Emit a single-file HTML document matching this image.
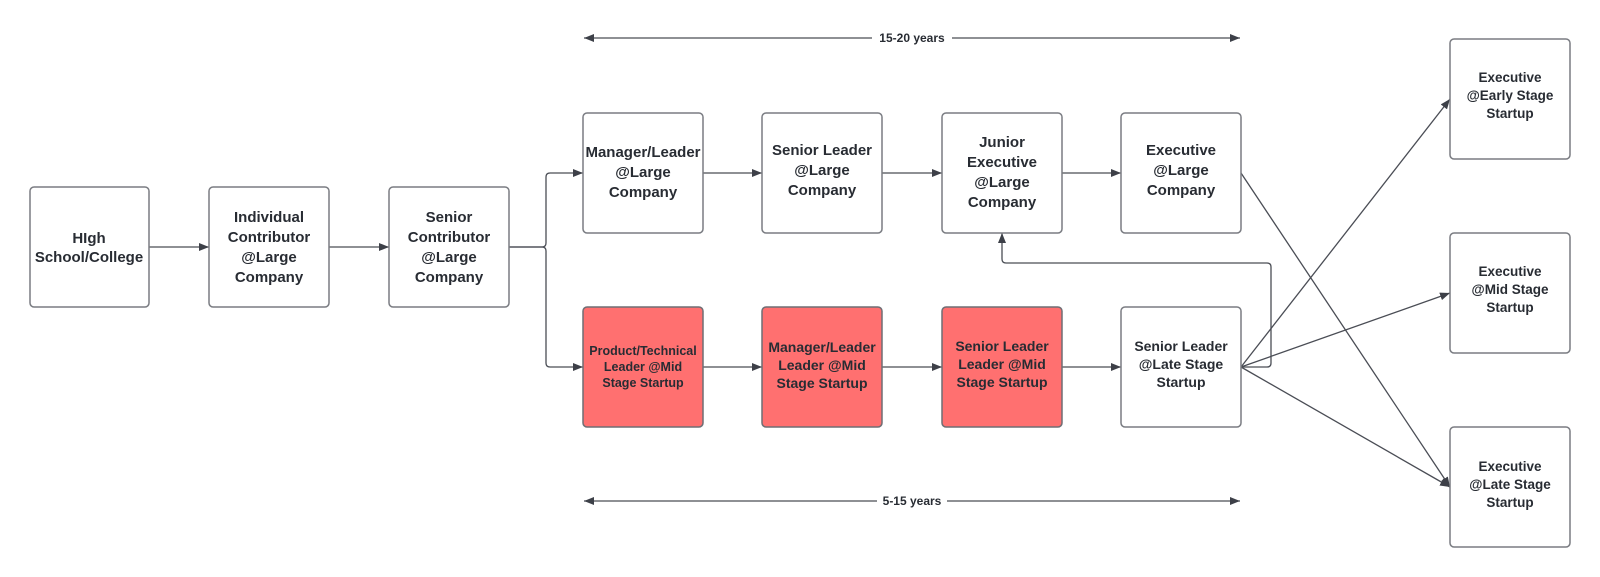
<!DOCTYPE html>
<html><head><meta charset="utf-8"><style>
html,body{margin:0;padding:0;background:#fff;}
svg{display:block;}
text{font-family:"Liberation Sans",Arial,sans-serif;font-weight:bold;fill:#282c33;text-anchor:middle;}
.b{fill:#fff;stroke:#7a7c82;stroke-width:1.5;}
.r{fill:#ff7070;stroke:#6e6e74;stroke-width:1.5;}
.l{fill:none;stroke:#4a4d55;stroke-width:1.3;}
</style></head><body>
<svg width="1600" height="577" viewBox="0 0 1600 577" xmlns="http://www.w3.org/2000/svg">
<defs>
<marker id="a" markerWidth="10" markerHeight="8" refX="10" refY="4" orient="auto" markerUnits="userSpaceOnUse">
<path d="M0,0 L10,4 L0,8 z" fill="#3d4048"/></marker>
<marker id="s" markerWidth="10" markerHeight="8" refX="0" refY="4" orient="auto" markerUnits="userSpaceOnUse">
<path d="M10,0 L0,4 L10,8 z" fill="#3d4048"/></marker>
</defs>

<!-- dimension lines -->
<line class="l" x1="584" y1="38" x2="1240" y2="38" marker-start="url(#s)" marker-end="url(#a)" stroke-width="2"/>
<rect x="872" y="30" width="80" height="16" fill="#fff"/>
<text x="912" y="42" font-size="12">15-20 years</text>
<line class="l" x1="584" y1="501" x2="1240" y2="501" marker-start="url(#s)" marker-end="url(#a)" stroke-width="2"/>
<rect x="877" y="493" width="70" height="16" fill="#fff"/>
<text x="912" y="505" font-size="12">5-15 years</text>

<!-- connectors -->
<line class="l" x1="149" y1="247" x2="209" y2="247" marker-end="url(#a)"/>
<line class="l" x1="329" y1="247" x2="389" y2="247" marker-end="url(#a)"/>
<path class="l" d="M509,247 H542 Q546,247 546,243 V177 Q546,173 550,173 H583" marker-end="url(#a)"/>
<path class="l" d="M509,247 H542 Q546,247 546,251 V363 Q546,367 550,367 H583" marker-end="url(#a)"/>
<line class="l" x1="703" y1="173" x2="762" y2="173" marker-end="url(#a)"/>
<line class="l" x1="882" y1="173" x2="942" y2="173" marker-end="url(#a)"/>
<line class="l" x1="1062" y1="173" x2="1121" y2="173" marker-end="url(#a)"/>
<line class="l" x1="703" y1="367" x2="762" y2="367" marker-end="url(#a)"/>
<line class="l" x1="882" y1="367" x2="942" y2="367" marker-end="url(#a)"/>
<line class="l" x1="1062" y1="367" x2="1121" y2="367" marker-end="url(#a)"/>
<path class="l" d="M1241,367 H1267 Q1271,367 1271,363 V267 Q1271,263 1267,263 H1006 Q1002,263 1002,259 V233" marker-end="url(#a)"/>
<line class="l" x1="1241" y1="173" x2="1450" y2="487" marker-end="url(#a)"/>
<line class="l" x1="1241" y1="367" x2="1450" y2="99" marker-end="url(#a)"/>
<line class="l" x1="1241" y1="367" x2="1450" y2="293" marker-end="url(#a)"/>
<line class="l" x1="1241" y1="367" x2="1450" y2="487" marker-end="url(#a)"/>

<!-- boxes -->
<rect class="b" x="30" y="187" width="119" height="120" rx="4"/>
<text font-size="15"><tspan x="89" y="243">HIgh</tspan><tspan x="89" y="262">School/College</tspan></text>

<rect class="b" x="209" y="187" width="120" height="120" rx="4"/>
<text font-size="15"><tspan x="269" y="222">Individual</tspan><tspan x="269" y="242">Contributor</tspan><tspan x="269" y="262">@Large</tspan><tspan x="269" y="282">Company</tspan></text>

<rect class="b" x="389" y="187" width="120" height="120" rx="4"/>
<text font-size="15"><tspan x="449" y="222">Senior</tspan><tspan x="449" y="242">Contributor</tspan><tspan x="449" y="262">@Large</tspan><tspan x="449" y="282">Company</tspan></text>

<rect class="b" x="583" y="113" width="120" height="120" rx="4"/>
<text font-size="15"><tspan x="643" y="157">Manager/Leader</tspan><tspan x="643" y="177">@Large</tspan><tspan x="643" y="197">Company</tspan></text>

<rect class="b" x="762" y="113" width="120" height="120" rx="4"/>
<text font-size="15"><tspan x="822" y="155">Senior Leader</tspan><tspan x="822" y="175">@Large</tspan><tspan x="822" y="195">Company</tspan></text>

<rect class="b" x="942" y="113" width="120" height="120" rx="4"/>
<text font-size="15"><tspan x="1002" y="147">Junior</tspan><tspan x="1002" y="167">Executive</tspan><tspan x="1002" y="187">@Large</tspan><tspan x="1002" y="207">Company</tspan></text>

<rect class="b" x="1121" y="113" width="120" height="120" rx="4"/>
<text font-size="15"><tspan x="1181" y="155">Executive</tspan><tspan x="1181" y="175">@Large</tspan><tspan x="1181" y="195">Company</tspan></text>

<rect class="r" x="583" y="307" width="120" height="120" rx="4"/>
<text font-size="12.5"><tspan x="643" y="355">Product/Technical</tspan><tspan x="643" y="371">Leader @Mid</tspan><tspan x="643" y="387">Stage Startup</tspan></text>

<rect class="r" x="762" y="307" width="120" height="120" rx="4"/>
<text font-size="14"><tspan x="822" y="352">Manager/Leader</tspan><tspan x="822" y="370">Leader @Mid</tspan><tspan x="822" y="388">Stage Startup</tspan></text>

<rect class="r" x="942" y="307" width="120" height="120" rx="4"/>
<text font-size="14"><tspan x="1002" y="351">Senior Leader</tspan><tspan x="1002" y="369">Leader @Mid</tspan><tspan x="1002" y="387">Stage Startup</tspan></text>

<rect class="b" x="1121" y="307" width="120" height="120" rx="4"/>
<text font-size="14"><tspan x="1181" y="351">Senior Leader</tspan><tspan x="1181" y="369">@Late Stage</tspan><tspan x="1181" y="387">Startup</tspan></text>

<rect class="b" x="1450" y="39" width="120" height="120" rx="4"/>
<text font-size="13.5"><tspan x="1510" y="82">Executive</tspan><tspan x="1510" y="100">@Early Stage</tspan><tspan x="1510" y="118">Startup</tspan></text>

<rect class="b" x="1450" y="233" width="120" height="120" rx="4"/>
<text font-size="13.5"><tspan x="1510" y="276">Executive</tspan><tspan x="1510" y="294">@Mid Stage</tspan><tspan x="1510" y="312">Startup</tspan></text>

<rect class="b" x="1450" y="427" width="120" height="120" rx="4"/>
<text font-size="13.5"><tspan x="1510" y="471">Executive</tspan><tspan x="1510" y="489">@Late Stage</tspan><tspan x="1510" y="507">Startup</tspan></text>
</svg>
</body></html>
